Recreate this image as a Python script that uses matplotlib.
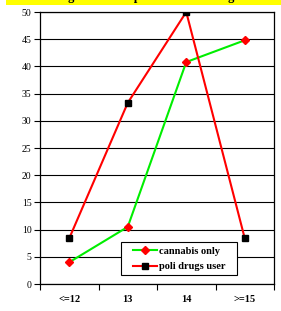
import matplotlib
matplotlib.use("Agg")
import matplotlib.pyplot as plt
from matplotlib.patches import Rectangle

categories = ["<=12", "13", "14", ">=15"]
cannabis_only = [4.0, 10.5, 40.8, 44.8]
poli_drugs = [8.4, 33.3, 50.0, 8.4]
yticks = [0, 5, 10, 15, 20, 25, 30, 35, 40, 45, 50]

plt.rcParams['font.family'] = ['Liberation Serif', 'DejaVu Serif']

fig = plt.figure(figsize=(2.81, 3.11), dpi=100)
# yellow title band at top
fig.patches.append(Rectangle((6/281, 1 - 5/311), 1, 5/311, transform=fig.transFigure,
                             facecolor="#ffff00", edgecolor="none", zorder=0))
fig.text(0.53, 1 + 0.3/311, "Age at first experience with drugs", ha="center", va="baseline",
         fontsize=9, fontweight="bold", color="black")

ax = fig.add_axes([40/281, 1 - 284/311, 234/281, 272/311])
x = list(range(len(categories)))

ax.plot(x, cannabis_only, color="#00ee00", lw=1.5, marker="D", ms=4,
        mfc="red", mec="red", label="cannabis only", zorder=3)
ax.plot(x, poli_drugs, color="#ff0000", lw=1.5, marker="s", ms=5,
        mfc="black", mec="black", label="poli drugs user", zorder=3)

ax.set_xlim(-0.5, 3.5)
ax.set_ylim(0, 50)
ax.set_yticks(yticks)
ax.set_yticklabels([str(v) for v in yticks], fontsize=7)
ax.set_xticks(x)
ax.set_xticklabels(categories, fontsize=7.5, fontweight="bold")
ax.set_xticks([-0.5, 0.5, 1.5, 2.5, 3.5], minor=True)
ax.tick_params(axis="x", which="major", length=0, pad=8)
ax.tick_params(axis="x", which="minor", length=4, direction="out", width=0.8)
ax.tick_params(axis="y", length=4, direction="out", width=0.8, pad=2)
ax.grid(axis="y", color="black", lw=0.8)
ax.set_axisbelow(True)
for s in ax.spines.values():
    s.set_color("black")
    s.set_linewidth(0.9)

# legend box
ax.add_patch(Rectangle((81/234, 9/272), 116/234, 33/272, transform=ax.transAxes,
                       facecolor="white", edgecolor="black", lw=0.8, zorder=4))
leg = ax.legend(loc="center", bbox_to_anchor=(139/234, 25/272), frameon=False,
                prop={"weight": "bold", "size": 7.5}, handlelength=2.3,
                borderpad=0, labelspacing=0.6, handletextpad=0.15, borderaxespad=0)
leg.set_zorder(5)

fig.savefig("out.png", dpi=100)
